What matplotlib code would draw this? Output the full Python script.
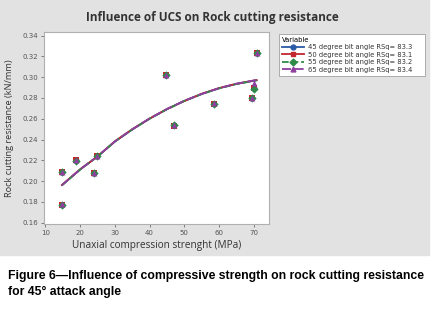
import matplotlib
matplotlib.use("Agg")
import matplotlib.pyplot as plt
from matplotlib.patches import Rectangle

# UCS (MPa) of the tested rocks
ucs = [14.8, 14.8, 18.9, 24.1, 24.9, 44.6, 47.0, 58.5, 69.6, 70.0, 70.8]

# rock cutting resistance (kN/mm) per bit angle
res_45 = [0.209, 0.1775, 0.2200, 0.2080, 0.2242, 0.3022, 0.2536, 0.2745, 0.2800, 0.2895, 0.3235]
res_50 = [0.209, 0.1768, 0.2202, 0.2080, 0.2240, 0.3020, 0.2534, 0.2743, 0.2802, 0.2900, 0.3233]
res_55 = [0.2088, 0.1772, 0.2198, 0.2078, 0.2243, 0.3024, 0.2538, 0.2738, 0.2798, 0.2890, 0.3236]
res_65 = [0.2092, 0.1778, 0.2204, 0.2082, 0.2245, 0.3023, 0.2537, 0.2748, 0.2801, 0.2946, 0.3235]

# fitted curves
fit_x = [14.8, 20, 25, 30, 35, 40, 45, 50, 55, 60, 65, 70.8]
fit_45 = [0.1962, 0.2112, 0.2238, 0.2380, 0.2496, 0.2600, 0.2692, 0.2772, 0.2838, 0.2893, 0.2935, 0.2970]
fit_50 = [0.1964, 0.2114, 0.2236, 0.2383, 0.2499, 0.2602, 0.2693, 0.2770, 0.2840, 0.2895, 0.2936, 0.2972]
fit_55 = [0.1961, 0.2111, 0.2237, 0.2381, 0.2497, 0.2601, 0.2691, 0.2771, 0.2837, 0.2892, 0.2934, 0.2969]
fit_65 = [0.1963, 0.2113, 0.2239, 0.2382, 0.2498, 0.2603, 0.2694, 0.2773, 0.2839, 0.2894, 0.2937, 0.2973]

labels = ["45 degree bit angle RSq= 83.3", "50 degree bit angle RSq= 83.1",
          "55 degree bit angle RSq= 83.2", "65 degree bit angle RSq= 83.4"]
colors = ["#2b5ba8", "#c4262e", "#2f8a4a", "#8e3f9f"]
markers = ["o", "s", "D", "^"]
styles = ["-", "-", "--", (0, (5, 2))]

fig = plt.figure(figsize=(4.37, 3.09), dpi=100)
fig.patches.append(Rectangle((0, 1 - 255 / 309), 429 / 437, 255 / 309,
                             transform=fig.transFigure, color="#e2e2e2", zorder=-10))

ax = fig.add_axes([44 / 437, 1 - 224 / 309, 224.7 / 437, 192.3 / 309])
ax.set_facecolor("white")

handles = []
for res, fit, c, m, ls, lab in zip([res_45, res_50, res_55, res_65],
                                   [fit_45, fit_50, fit_55, fit_65],
                                   colors, markers, styles, labels):
    ax.scatter(ucs, res, s=18, marker=m, color=c, zorder=3, linewidths=0)
    ax.plot(fit_x, fit, color=c, ls=ls, lw=1.3, zorder=2)
    h, = ax.plot([], [], color=c, ls=ls, lw=1.3, marker=m, ms=3.5, label=lab)
    handles.append(h)

ax.set_xlim(9.6, 74.3)
ax.set_ylim(0.1588, 0.3437)
ax.set_xticks([10, 20, 30, 40, 50, 60, 70])
ax.set_yticks([0.16, 0.18, 0.20, 0.22, 0.24, 0.26, 0.28, 0.30, 0.32, 0.34])
ax.set_yticklabels(["0.16", "0.18", "0.20", "0.22", "0.24", "0.26", "0.28", "0.30", "0.32", "0.34"])
ax.tick_params(labelsize=5, colors="#555555", length=2, width=0.5, pad=2)
for s in ax.spines.values():
    s.set_color("#b0b0b0")
    s.set_linewidth(0.8)

ax.set_xlabel("Unaxial compression strenght (MPa)", fontsize=7.2, color="#333333",
              family="Open Sans", labelpad=3)
ax.set_ylabel("Rock cutting resistance (kN/mm)", fontsize=6.6, color="#333333",
              family="Open Sans", labelpad=6)

fig.text(212 / 437, 1 - 17 / 309, "Influence of UCS on Rock cutting resistance",
         ha="center", va="center", fontsize=8.5, fontweight="bold", color="#333333",
         family="Open Sans")

leg = fig.legend(handles=handles, loc="upper left",
                 bbox_to_anchor=(279 / 437, 1 - 82 / 309, 146 / 437, 48 / 309),
                 mode="expand", fontsize=4.9, title="Variable", title_fontsize=4.9,
                 frameon=True, fancybox=False, edgecolor="#a0a0a0", framealpha=1,
                 handlelength=3.2, handletextpad=0.6, labelspacing=0.2,
                 borderpad=0.45, borderaxespad=0, alignment="left")
leg.get_frame().set_linewidth(0.6)
for t in leg.get_texts():
    t.set_color("#333333")

fig.text(8 / 437, 1 - 276 / 309,
         "Figure 6\u2014Influence of compressive strength on rock cutting resistance",
         ha="left", va="center", fontsize=8.85, fontweight="bold", family="Liberation Sans")
fig.text(8 / 437, 1 - 292 / 309, "for 45\u00b0 attack angle",
         ha="left", va="center", fontsize=8.85, fontweight="bold", family="Liberation Sans")

fig.savefig("out.png", dpi=100)
